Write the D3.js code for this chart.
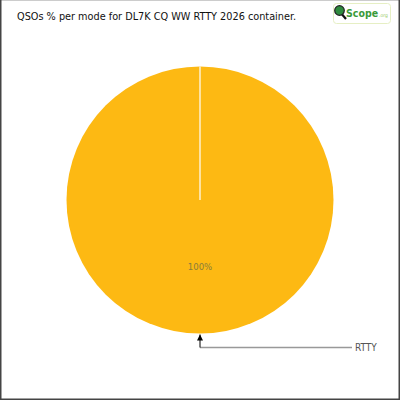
<!DOCTYPE html>
<html><head><meta charset="utf-8">
<script src="https://cdn.jsdelivr.net/npm/d3@7/dist/d3.min.js"></script>
<style>html,body{margin:0;padding:0;background:#fff}svg{display:block}</style>
</head><body>
<script>
const modes = ["RTTY"];
const values = [100];
const colors = ["#FDB913"];
const title = "QSOs % per mode for DL7K CQ WW RTTY 2026 container.";

const W = 400, H = 400;
const svg = d3.select("body").append("svg").attr("width", W).attr("height", H);
svg.append("rect").attr("width", W).attr("height", H).attr("fill", "#fff");

// border
svg.append("line").attr("x1",0).attr("x2",W).attr("y1",0.5).attr("y2",0.5).attr("stroke","#ccc");
svg.append("line").attr("x1",0.75).attr("x2",0.75).attr("y1",0).attr("y2",H).attr("stroke","#444").attr("stroke-width",1.5);
svg.append("line").attr("x1",W-0.75).attr("x2",W-0.75).attr("y1",0).attr("y2",H).attr("stroke","#444").attr("stroke-width",1.5);
svg.append("line").attr("x1",0).attr("x2",W).attr("y1",H-0.75).attr("y2",H-0.75).attr("stroke","#444").attr("stroke-width",1.5);

// title
svg.append("text").attr("x",17).attr("y",20).text(title)
  .attr("font-family","DejaVu Sans Condensed, DejaVu Sans, sans-serif").attr("font-size",11)
  .attr("textLength",279).attr("lengthAdjust","spacingAndGlyphs").attr("fill","#111");

// logo
const logo = svg.append("g").attr("transform","translate(333,3)");
logo.append("rect").attr("x",0.5).attr("y",0.5).attr("width",57).attr("height",20).attr("rx",3)
  .attr("fill","#fff").attr("stroke","#e6efc4");
logo.append("line").attr("x1",7).attr("y1",9).attr("x2",13).attr("y2",16).attr("stroke","#111").attr("stroke-width",2.2);
logo.append("circle").attr("cx",6.5).attr("cy",7.5).attr("r",4.8).attr("fill","#2e8b3e").attr("stroke","#222").attr("stroke-width",1.2);
const lt = logo.append("text").attr("x",13).attr("y",14)
  .attr("font-family","DejaVu Sans Condensed, sans-serif");
lt.append("tspan").text("Scope").attr("font-weight","bold").attr("font-size",10.5).attr("fill","#3a9a3a");
lt.append("tspan").text(".org").attr("dx",1).attr("font-size",5).attr("fill","#9acb6a");

// pie
const cx = 200, cy = 200, R = 133.5;
const g = svg.append("g").attr("transform",`translate(${cx},${cy})`);
const pie = d3.pie().sort(null).value(d => d)(values);
const arc = d3.arc().innerRadius(0).outerRadius(R);
g.selectAll("path.slice").data(pie).join("path").attr("class","slice")
  .attr("d", arc).attr("fill",(d,i)=>colors[i]);
// slice separator (start edge)
g.selectAll("line.sep").data(pie).join("line").attr("class","sep")
  .attr("x1",0).attr("y1",0)
  .attr("x2",d=>R*Math.sin(d.startAngle)).attr("y2",d=>-R*Math.cos(d.startAngle))
  .attr("stroke","#fff").attr("stroke-width",1.2);

// labels
const labelArc = d3.arc().innerRadius(R*0.5).outerRadius(R*0.5);
g.selectAll("text.pct").data(pie).join("text").attr("class","pct")
  .attr("transform", d => { const [x,y] = labelArc.centroid(d); return `translate(${x},${y+3.5})`; })
  .attr("text-anchor","middle").attr("font-family","DejaVu Sans Condensed, sans-serif").attr("font-size",9.5)
  .attr("fill","#8a7d3c").text(d => Math.round(d.value / d3.sum(values) * 100) + "%");

// legend callout
const outerArc = d3.arc().innerRadius(R).outerRadius(R);
const defs = svg.append("defs");
defs.append("marker").attr("id","arr").attr("viewBox","0 0 10 10").attr("refX",10).attr("refY",5)
  .attr("markerWidth",8).attr("markerHeight",6).attr("orient","auto").attr("markerUnits","userSpaceOnUse")
  .append("path").attr("d","M0,0 L10,5 L0,10 Z").attr("fill","#000");
pie.forEach((d,i) => {
  const [px,py] = outerArc.centroid(d);
  const x = cx + px, yTop = cy + py + 1, yLine = cy + py + 14;
  svg.append("line").attr("x1",x).attr("y1",yLine).attr("x2",352).attr("y2",yLine)
    .attr("stroke","#999").attr("stroke-width",1.5);
  svg.append("line").attr("x1",x).attr("y1",yLine).attr("x2",x).attr("y2",yTop)
    .attr("stroke","#000").attr("stroke-width",1).attr("marker-end","url(#arr)");
  svg.append("text").attr("x",355).attr("y",yLine+3.5).text(modes[i])
    .attr("font-family","DejaVu Sans Condensed, sans-serif").attr("font-size",10).attr("fill","#555");
});
</script>
</body></html>
